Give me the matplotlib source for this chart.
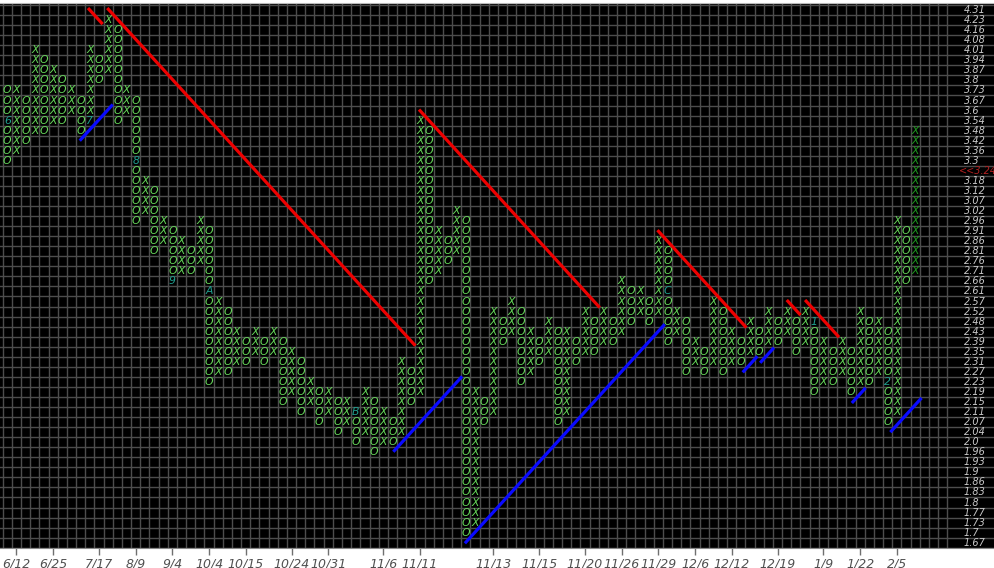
import matplotlib
matplotlib.use('Agg')
import matplotlib.pyplot as plt

# ---------------- data ----------------
price_labels = ['1.67', '1.7', '1.73', '1.77', '1.8', '1.83', '1.86', '1.9', '1.93', '1.96',
                '2.0', '2.04', '2.07', '2.11', '2.15', '2.19', '2.23', '2.27', '2.31', '2.35',
                '2.39', '2.43', '2.48', '2.52', '2.57', '2.61', '2.66', '2.71', '2.76', '2.81',
                '2.86', '2.91', '2.96', '3.02', '3.07', '3.12', '3.18', '3.24', '3.3', '3.36',
                '3.42', '3.48', '3.54', '3.6', '3.67', '3.73', '3.8', '3.87', '3.94', '4.01',
                '4.08', '4.16', '4.23', '4.31']
current_row = 37
current_label = '<<3.24'

first_type = 'O'   # columns alternate O / X starting with this
col_bottoms = [38, 39, 40, 41, 41, 42, 42, 43, 41, 42,
               46, 47, 42, 43, 32, 33, 29, 30, 26, 27,
               27, 28, 16, 17, 17, 18, 18, 19, 18, 19,
               14, 15, 13, 14, 12, 13, 11, 12, 10, 11,
               9, 10, 10, 11, 14, 15, 26, 27, 28, 29,
               1, 2, 12, 13, 20, 21, 16, 17, 18, 19,
               12, 13, 18, 19, 19, 20, 20, 21, 22, 23,
               22, 23, 20, 21, 17, 18, 17, 18, 17, 18,
               18, 19, 19, 20, 20, 21, 19, 20, 15, 16,
               16, 17, 15, 16, 16, 17, 12, 13, 26, 27]
col_tops = [45, 45, 44, 49, 48, 47, 46, 45, 44, 49,
            48, 52, 51, 45, 44, 36, 35, 32, 31, 30,
            29, 32, 31, 24, 23, 21, 20, 21, 20, 21,
            20, 19, 18, 16, 15, 15, 14, 14, 13, 15,
            14, 13, 12, 18, 17, 42, 41, 31, 30, 33,
            32, 15, 14, 23, 22, 24, 23, 21, 20, 22,
            21, 21, 20, 23, 22, 23, 22, 26, 25, 25,
            24, 30, 29, 23, 22, 20, 19, 24, 23, 21,
            20, 22, 21, 23, 22, 23, 22, 23, 22, 20,
            19, 20, 19, 23, 22, 22, 21, 32, 31, 41]
highlight_cols = [99]

mark_cols = [0, 9, 14, 18, 22, 38, 72, 88, 96]
mark_rows = [42, 42, 38, 26, 25, 13, 25, 22, 16]
mark_chars = ['6', '7', '8', '9', 'A', 'B', 'C', '1', '2']

date_cols = [1, 5, 10, 14, 18, 22, 26, 31, 35, 41, 45, 53, 58, 63, 67, 71, 75, 79, 84, 89, 93, 97]
date_labels = ['6/12', '6/25', '7/17', '8/9', '9/4', '10/4', '10/15', '10/24', '10/31', '11/6',
               '11/11', '11/13', '11/15', '11/20', '11/26', '11/29', '12/6', '12/12', '12/19',
               '1/9', '1/22', '2/5']

# trend lines: start column, start row, length in boxes (45 degree)
red_start_cols = [8.8, 10.9, 44.9, 70.9, 85.0, 87.0]
red_start_rows = [53.2, 53.2, 43.1, 31.1, 24.15, 24.15]
red_lengths = [1.6, 33.6, 19.7, 9.7, 1.5, 3.7]
blue_start_cols = [7.9, 42.1, 49.9, 80.2, 82.1, 92.1, 96.3]
blue_start_rows = [40.0, 9.05, -0.06, 16.95, 17.9, 13.9, 11.0]
blue_lengths = [3.6, 7.5, 21.8, 1.6, 1.5, 1.5, 3.4]

# ---------------- style ----------------
W, H = 995, 568
col_px = 9.17
row_px = 10.05
x0_px = 2.7          # left edge of column 0
row0_px = 542.7      # centre of row 0 (from top)
plot_top_px, plot_bot_px = 3.0, 548.0
n_grid_cols = 103

fig = plt.figure(figsize=(W / 100, H / 100), dpi=100, facecolor='white')
ax = fig.add_axes([0, (H - plot_bot_px) / H, 1, (plot_bot_px - plot_top_px) / H])
ax.set_facecolor('black')
xmin = -0.5 - x0_px / col_px
xmax = -0.5 + (W - x0_px) / col_px
ymin = (row0_px - plot_bot_px) / row_px
ymax = (row0_px - plot_top_px) / row_px
ax.set_xlim(xmin, xmax)
ax.set_ylim(ymin, ymax)

grid_color = '#4d4d4d'
for c in range(-1, n_grid_cols):
    ax.axvline(c + 0.5, color=grid_color, lw=1.0, zorder=1)
for k in range(-1, len(price_labels)):
    ax.axhline(k + 0.5, color=grid_color, lw=1.0, zorder=1)

green = '#66d85a'
dark_green = '#1f9a1f'
mark_color = '#1f9e8e'
marks = {(c, r): ch for c, r, ch in zip(mark_cols, mark_rows, mark_chars)}
gfs = 7.8

t = first_type
for c, (b, tp) in enumerate(zip(col_bottoms, col_tops)):
    color = dark_green if c in highlight_cols else green
    for k in range(b, tp + 1):
        if (c, k) in marks:
            ax.text(c, k, marks[(c, k)], ha='center', va='center', fontsize=gfs,
                    style='italic', color=mark_color, zorder=3)
        else:
            ax.text(c, k, t, ha='center', va='center', fontsize=gfs,
                    style='italic', color=color, zorder=3)
    t = 'X' if t == 'O' else 'O'

for sc, sr, ln in zip(red_start_cols, red_start_rows, red_lengths):
    ax.plot([sc, sc + ln], [sr, sr - ln], color='#ee0000', lw=2.3, zorder=4,
            solid_capstyle='butt')
for sc, sr, ln in zip(blue_start_cols, blue_start_rows, blue_lengths):
    ax.plot([sc, sc + ln], [sr, sr + ln], color='#0a0aff', lw=2.3, zorder=4,
            solid_capstyle='butt')

# price labels on the right
lab_x = -0.5 + (964 - x0_px) / col_px
for k, lab in enumerate(price_labels):
    if k == current_row:
        ax.text(lab_x - 0.5, k, current_label, ha='left', va='center', fontsize=7,
                style='italic', color='#b02020', zorder=5, clip_on=True)
    else:
        ax.text(lab_x, k, lab, ha='left', va='center', fontsize=7,
                style='italic', color='#c8c8c8', zorder=5)

ax.set_yticks([])
ax.set_xticks(date_cols)
ax.set_xticklabels(date_labels, fontsize=9, style='italic', color='#505050')
ax.tick_params(axis='x', direction='out', length=5, width=1, color='#707070', pad=2)
for s in ['left', 'right']:
    ax.spines[s].set_visible(False)
ax.spines['top'].set_color('#bbbbbb')
ax.spines['bottom'].set_color('#888888')

fig.savefig('out.png', dpi=100, facecolor='white')
